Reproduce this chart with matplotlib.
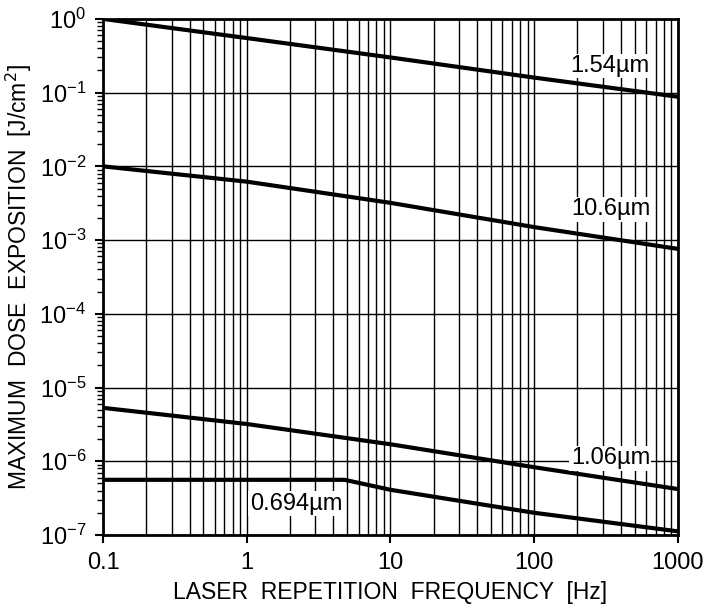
import numpy as np
import matplotlib
matplotlib.use("Agg")
import matplotlib.pyplot as plt
from matplotlib.ticker import LogLocator, NullFormatter, FixedLocator

plt.rcParams['font.family'] = ['Liberation Sans', 'DejaVu Sans']

# values
freq = [0.1, 1, 10, 100, 1000]
mpe_154 = [1.0, 0.55, 0.30, 0.16, 0.088]
mpe_106um = [0.01, 6.2e-3, 3.2e-3, 1.5e-3, 7.6e-4]
mpe_1064 = [5.3e-6, 3.2e-6, 1.7e-6, 8.3e-7, 4.2e-7]
freq_694 = [0.1, 4.8, 10, 100, 1000]
mpe_694 = [5.6e-7, 5.6e-7, 4.1e-7, 2.0e-7, 1.12e-7]

labels = ["1.54\u00b5m", "10.6\u00b5m", "1.06\u00b5m", "0.694\u00b5m"]
label_x = [335, 345, 340, 2.2]
label_y = [0.23, 2.6e-3, 1.1e-6, 2.65e-7]

fig = plt.figure(figsize=(7.06, 6.10), dpi=100)
ax = fig.add_axes([0.146, 0.123, 0.814, 0.846])

ax.set_xscale('log')
ax.set_yscale('log')
ax.set_xlim(0.1, 1000)
ax.set_ylim(1e-7, 1)

ax.xaxis.set_major_locator(FixedLocator([0.1, 1, 10, 100, 1000]))
ax.set_xticklabels(["0.1", "1", "10", "100", "1000"])
ax.xaxis.set_minor_locator(LogLocator(base=10, subs=np.arange(2, 10)))
ax.xaxis.set_minor_formatter(NullFormatter())
ax.yaxis.set_major_locator(LogLocator(base=10, numticks=10))
ax.yaxis.set_minor_locator(LogLocator(base=10, subs=np.arange(2, 10), numticks=20))
ax.yaxis.set_minor_formatter(NullFormatter())

ax.grid(True, which='major', axis='both', color='black', lw=1.0)
ax.grid(True, which='minor', axis='x', color='black', lw=1.0)

for s in ax.spines.values():
    s.set_linewidth(2)
ax.tick_params(which='major', length=6, width=1.5, labelsize=17, pad=6)
ax.tick_params(which='minor', length=4, width=1)
ax.tick_params(axis='x', which='minor', length=0)

for yv, xv in [(mpe_154, freq), (mpe_106um, freq), (mpe_1064, freq), (mpe_694, freq_694)]:
    ax.plot(xv, yv, color='black', lw=3, solid_capstyle='butt', zorder=3)

for t, x, y in zip(labels, label_x, label_y):
    ax.text(x, y, t, fontsize=17, ha='center', va='center', zorder=4,
            bbox=dict(facecolor='white', edgecolor='none', pad=1))

ax.set_xlabel("LASER  REPETITION  FREQUENCY  [Hz]", fontsize=16.5, labelpad=5)
ax.set_ylabel("MAXIMUM  DOSE  EXPOSITION  [J/cm$^2$]", fontsize=16.5, labelpad=4)

fig.savefig("out.png", dpi=100)
